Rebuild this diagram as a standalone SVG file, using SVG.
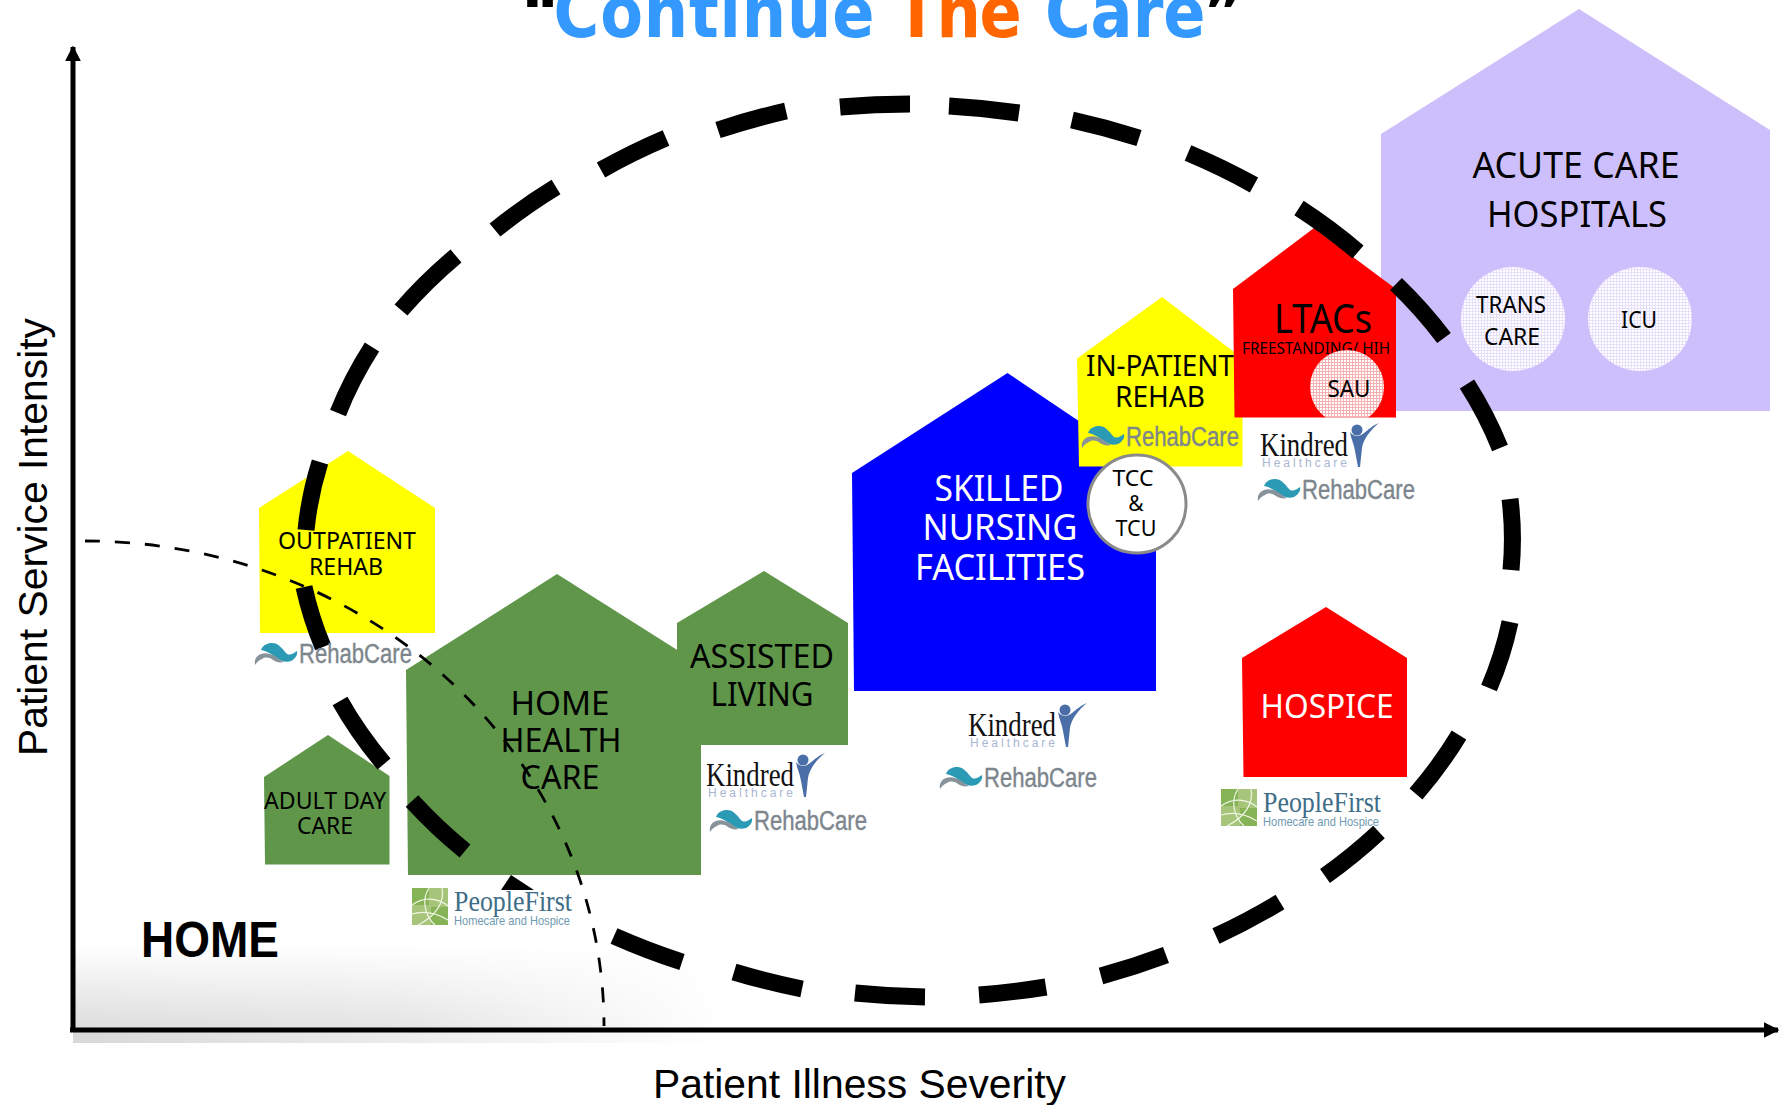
<svg xmlns="http://www.w3.org/2000/svg" width="1779" height="1105" viewBox="0 0 1779 1105">
<style>
.l{font-family:"Noto Sans","Open Sans",sans-serif;text-anchor:middle;fill:#000}
.w{fill:#fff}
.a{font-family:"Liberation Sans",Arial,sans-serif;fill:#000}
.d{fill:none;stroke:#000;stroke-width:17}
.g{fill:#5f964a}
.y{fill:#ffff00}
.r{fill:#ff0000}
.rc{font-family:"Liberation Sans",sans-serif;font-size:27px;fill:#7d868d;stroke:#7d868d;stroke-width:.4}
.kn{font-family:"Liberation Serif",serif;font-size:33px;fill:#111}
.kh{font-family:"Liberation Sans",sans-serif;font-size:12px;fill:#a8b6d2}
.pf{font-family:"Liberation Serif",serif;font-size:30px;fill:#3e6d87}
.ph{font-family:"Liberation Sans",sans-serif;font-size:13px;fill:#6f9ab0}
</style>
<defs>
<linearGradient id="gv" x1="0" y1="0" x2="0" y2="1"><stop offset="0" stop-color="#fff"/><stop offset="1" stop-color="#dcdcdc"/></linearGradient>
<linearGradient id="gh" x1="0" y1="0" x2="1" y2="0"><stop offset="0" stop-color="#fff" stop-opacity="0"/><stop offset=".5" stop-color="#fff" stop-opacity=".2"/><stop offset="1" stop-color="#fff"/></linearGradient>
<linearGradient id="gs" x1="0" y1="0" x2="1" y2="0"><stop offset="0" stop-color="#d8d8d8"/><stop offset="1" stop-color="#fff"/></linearGradient>
<pattern id="pl" width="3" height="3" patternUnits="userSpaceOnUse"><rect width="3" height="3" fill="#fff"/><rect x="2" width="1" height="3" fill="#e6e0fb"/><rect y="2" width="3" height="1" fill="#e6e0fb"/></pattern>
<pattern id="pr" width="3" height="3" patternUnits="userSpaceOnUse"><rect width="3" height="3" fill="#fff"/><rect x="2" width="1" height="3" fill="#f7b0b0"/><rect y="2" width="3" height="1" fill="#f7b0b0"/></pattern>
<clipPath id="sauclip"><rect x="1300" y="340" width="100" height="77.5"/></clipPath>
<marker id="ah" viewBox="0 0 10 10" refX="9" refY="5" markerWidth="16" markerHeight="16" markerUnits="userSpaceOnUse" orient="auto"><path d="M0,0L10,5L0,10z" fill="#000"/></marker>
<g id="rehabcare">
<path d="M7,-4C9,-9 13,-11 18,-11C24,-11 28,-6 32,-1C35,2 39,0 43,-3C44,1 41,5 37,7C32,9 27,7 23,4C19,1 13,-3 7,-4z" fill="#2b9ab4"/>
<path d="M1,11C0,6 2,2 7,0C12,-2 17,0 21,2C24,4 27,7 30,8C26,9 22,8 19,6C15,3 11,3 8,5C5,6 3,8 1,11z" fill="#87929a"/>
<text class="rc" x="45" y="9" textLength="113" lengthAdjust="spacingAndGlyphs">RehabCare</text>
</g>
<g id="kindred">
<text class="kn" x="0" y="0" textLength="88" lengthAdjust="spacingAndGlyphs">Kindred</text>
<text class="kh" x="2" y="11" textLength="85">Healthcare</text>
<circle cx="97" cy="-26" r="5.500" fill="#4a6fa8"/>
<path d="M119,-33C113,-31 108,-26 104,-23C99,-19 94,-19 90,-24C91,-17 94,-12 95,-5L98,11L100,11L102,-8C103,-16 110,-26 119,-33z" fill="#4a6fa8"/>
</g>
<g id="peoplefirst">
<rect x="0" y="0" width="36" height="37" fill="#a7c57a"/>
<rect x="0" y="0" width="17" height="17" fill="#86b356"/>
<rect x="19" y="19" width="17" height="18" fill="#86b356"/>
<path d="M0,17C12,8 26,10 36,18M17,0C9,12 13,28 23,37M30,0C33,14 24,28 6,37M0,26C14,22 26,26 36,32" fill="none" stroke="#f0f6e6" stroke-width="1.200"/>
<text class="pf" x="42" y="23" textLength="118" lengthAdjust="spacingAndGlyphs">PeopleFirst</text>
<text class="ph" x="42" y="37" textLength="116" lengthAdjust="spacingAndGlyphs">Homecare and Hospice</text>
</g>
</defs>

<rect width="1779" height="1105" fill="#fff"/>

<g id="floor">
<rect x="73" y="945" width="650" height="85" fill="url(#gv)"/>
<rect x="73" y="945" width="650" height="85" fill="url(#gh)"/>
<rect x="73" y="1032" width="650" height="11" fill="url(#gs)"/>
</g>

<g id="title">
<text transform="scale(.865 1)" y="37" font-family="'DejaVu Sans',sans-serif" font-weight="700" font-size="72" fill="#000"><tspan x="602">“</tspan><tspan x="640" fill="#3399ff" letter-spacing="1">Continue</tspan><tspan x="1035" fill="#ff6600" letter-spacing="-1.500">The</tspan><tspan x="1208" fill="#3399ff">Care</tspan><tspan x="1391">”</tspan></text>
</g>

<g id="acute-care-hospitals">
<polygon points="1381,134 1579,9 1770,130 1770,411 1381,411" fill="#cdbffb"/>
<text class="l" x="1576" y="178" font-size="37" textLength="207" lengthAdjust="spacingAndGlyphs">ACUTE CARE</text>
<text class="l" x="1577" y="227" font-size="37" textLength="180" lengthAdjust="spacingAndGlyphs">HOSPITALS</text>
</g>
<g id="trans-care">
<ellipse cx="1513" cy="319" rx="52" ry="52" fill="url(#pl)"/>
<text class="l" x="1511" y="313" font-size="24" textLength="70" lengthAdjust="spacingAndGlyphs">TRANS</text>
<text class="l" x="1512" y="345" font-size="24" textLength="56" lengthAdjust="spacingAndGlyphs">CARE</text>
</g>
<g id="icu">
<ellipse cx="1640" cy="319" rx="52" ry="52" fill="url(#pl)"/>
<text class="l" x="1639" y="328" font-size="24" textLength="36" lengthAdjust="spacingAndGlyphs">ICU</text>
</g>

<g id="skilled-nursing">
<polygon points="852,473 1007.500,373 1156,473 1156,691 854,691" fill="#0000ff"/>
<text class="l w" x="999" y="501" font-size="36" textLength="129" lengthAdjust="spacingAndGlyphs">SKILLED</text>
<text class="l w" x="1000" y="540" font-size="36" textLength="155" lengthAdjust="spacingAndGlyphs">NURSING</text>
<text class="l w" x="1000" y="580" font-size="36" textLength="170" lengthAdjust="spacingAndGlyphs">FACILITIES</text>
</g>

<g id="in-patient-rehab">
<polygon class="y" points="1077,358.500 1162,297 1242.500,358.500 1242.500,466.500 1079,466.500"/>
<text class="l" x="1160" y="376" font-size="29" textLength="148" lengthAdjust="spacingAndGlyphs">IN-PATIENT</text>
<text class="l" x="1160" y="407" font-size="29" textLength="90" lengthAdjust="spacingAndGlyphs">REHAB</text>
</g>

<g id="ltacs">
<polygon class="r" points="1233,289 1314,228 1396,289 1396,417.500 1234.500,417.500"/>
<text class="l" x="1323" y="333" font-size="40" textLength="98" lengthAdjust="spacingAndGlyphs">LTACs</text>
<text class="l" x="1316" y="354" font-size="16" textLength="148" lengthAdjust="spacingAndGlyphs">FREESTANDING/ HIH</text>
</g>
<g id="sau">
<ellipse cx="1347" cy="387" rx="37" ry="37" fill="url(#pr)" clip-path="url(#sauclip)"/>
<text class="l" x="1349" y="397" font-size="24" textLength="43" lengthAdjust="spacingAndGlyphs">SAU</text>
</g>

<g id="tcc-tcu">
<circle cx="1137" cy="504" r="49" fill="#fff" stroke="#8a8a8a" stroke-width="3"/>
<text class="l" x="1133" y="486" font-size="21" textLength="41" lengthAdjust="spacingAndGlyphs">TCC</text>
<text class="l" x="1136" y="511" font-size="21">&amp;</text>
<text class="l" x="1136" y="536" font-size="21" textLength="41" lengthAdjust="spacingAndGlyphs">TCU</text>
</g>

<g id="hospice">
<polygon class="r" points="1242,658 1326,607 1407,658 1407,777 1243.500,777"/>
<text class="l w" x="1327" y="718" font-size="33" textLength="133" lengthAdjust="spacingAndGlyphs">HOSPICE</text>
</g>

<g id="home-health-care">
<polygon class="g" points="406,670 557,574 701,665 701,875 408,875"/>
<text class="l" x="560" y="715" font-size="33" textLength="99" lengthAdjust="spacingAndGlyphs">HOME</text>
<text class="l" x="561" y="752" font-size="33" textLength="121" lengthAdjust="spacingAndGlyphs">HEALTH</text>
<text class="l" x="560" y="789" font-size="33" textLength="79" lengthAdjust="spacingAndGlyphs">CARE</text>
</g>

<g id="assisted-living">
<polygon class="g" points="677,623 764,571 848,623 848,745 677,745"/>
<text class="l" x="762" y="668" font-size="33" textLength="144" lengthAdjust="spacingAndGlyphs">ASSISTED</text>
<text class="l" x="762" y="706" font-size="33" textLength="103" lengthAdjust="spacingAndGlyphs">LIVING</text>
</g>

<g id="outpatient-rehab">
<polygon class="y" points="259,508 348,451 435,508 435,633 260,633"/>
<text class="l" x="347" y="549" font-size="23" textLength="138" lengthAdjust="spacingAndGlyphs">OUTPATIENT</text>
<text class="l" x="346" y="575" font-size="23" textLength="74" lengthAdjust="spacingAndGlyphs">REHAB</text>
</g>

<g id="adult-day-care">
<polygon class="g" points="264,777 328,735 389.500,776 389.500,864.500 265,864.500"/>
<text class="l" x="325" y="809" font-size="23" textLength="122" lengthAdjust="spacingAndGlyphs">ADULT DAY</text>
<text class="l" x="325" y="834" font-size="23" textLength="56" lengthAdjust="spacingAndGlyphs">CARE</text>
</g>

<g id="connectors">
<path class="d" d="M840,107A606 447 0 0 1 910,104"/>
<path class="d" d="M949,106A606 447 0 0 1 1019,113"/>
<path class="d" d="M1072,120A606 447 0 0 1 1139,138"/>
<path class="d" d="M1188,153A606 447 0 0 1 1254,185"/>
<path class="d" d="M1299,208A606 447 0 0 1 1358,252"/>
<path class="d" d="M1396,284A606 447 0 0 1 1444,338"/>
<path class="d" d="M1467,384A606 447 0 0 1 1500,448"/>
<path class="d" d="M1510,499A606 447 0 0 1 1511,570"/>
<path class="d" d="M1510,622A606 447 0 0 1 1489,688"/>
<path class="d" d="M1459,735A606 447 0 0 1 1416,794"/>
<path class="d" d="M1379,832A606 447 0 0 1 1325,876"/>
<path class="d" d="M1280,902A606 447 0 0 1 1216,936"/>
<path class="d" d="M1166,955A606 447 0 0 1 1101,976"/>
<path class="d" d="M1046,987A606 447 0 0 1 979,995"/>
<path class="d" d="M925,997A606 447 0 0 1 855,993"/>
<path class="d" d="M802,989A606 447 0 0 1 734,972"/>
<path class="d" d="M682,962A606 447 0 0 1 614,936"/>
<path class="d" d="M465,851A606 447 0 0 1 412,801"/>
<path class="d" d="M384,764A606 447 0 0 1 340,701"/>
<path class="d" d="M323,647A606 447 0 0 1 304,587"/>
<path class="d" d="M306,530A606 447 0 0 1 320,462"/>
<path class="d" d="M338,413A606 447 0 0 1 372,347"/>
<path class="d" d="M401,310A606 447 0 0 1 456,256"/>
<path class="d" d="M495,230A606 447 0 0 1 556,187"/>
<path class="d" d="M601,170A606 447 0 0 1 666,138"/>
<path class="d" d="M718,130A606 447 0 0 1 786,111"/>
<polygon points="511,875 501,890 534,890" fill="#000"/>
<path d="M85,541A519 485 0 0 1 604,1026" fill="none" stroke="#000" stroke-width="2.800" stroke-dasharray="15 15"/>
<path d="M73,1030V47" fill="none" stroke="#000" stroke-width="5" marker-end="url(#ah)"/>
<path d="M70,1030H1778" fill="none" stroke="#000" stroke-width="5" marker-end="url(#ah)"/>
</g>

<g id="logos">
<use href="#rehabcare" x="254" y="654"/>
<use href="#rehabcare" x="1081" y="437"/>
<use href="#rehabcare" x="1257" y="490"/>
<use href="#rehabcare" x="939" y="778"/>
<use href="#rehabcare" x="709" y="821"/>
<use href="#kindred" x="968" y="736"/>
<use href="#kindred" x="706" y="786"/>
<use href="#kindred" x="1260" y="456"/>
<use href="#peoplefirst" x="412" y="888"/>
<use href="#peoplefirst" x="1221" y="789"/>
</g>

<g id="labels">
<text class="a" x="141" y="957" font-size="50" font-weight="700" textLength="138" lengthAdjust="spacingAndGlyphs">HOME</text>
<text class="a" x="653" y="1098" font-size="40" textLength="413" lengthAdjust="spacingAndGlyphs">Patient Illness Severity</text>
<text class="a" transform="translate(47 756) rotate(-90)" font-size="40" textLength="438" lengthAdjust="spacingAndGlyphs">Patient Service Intensity</text>
</g>
</svg>
